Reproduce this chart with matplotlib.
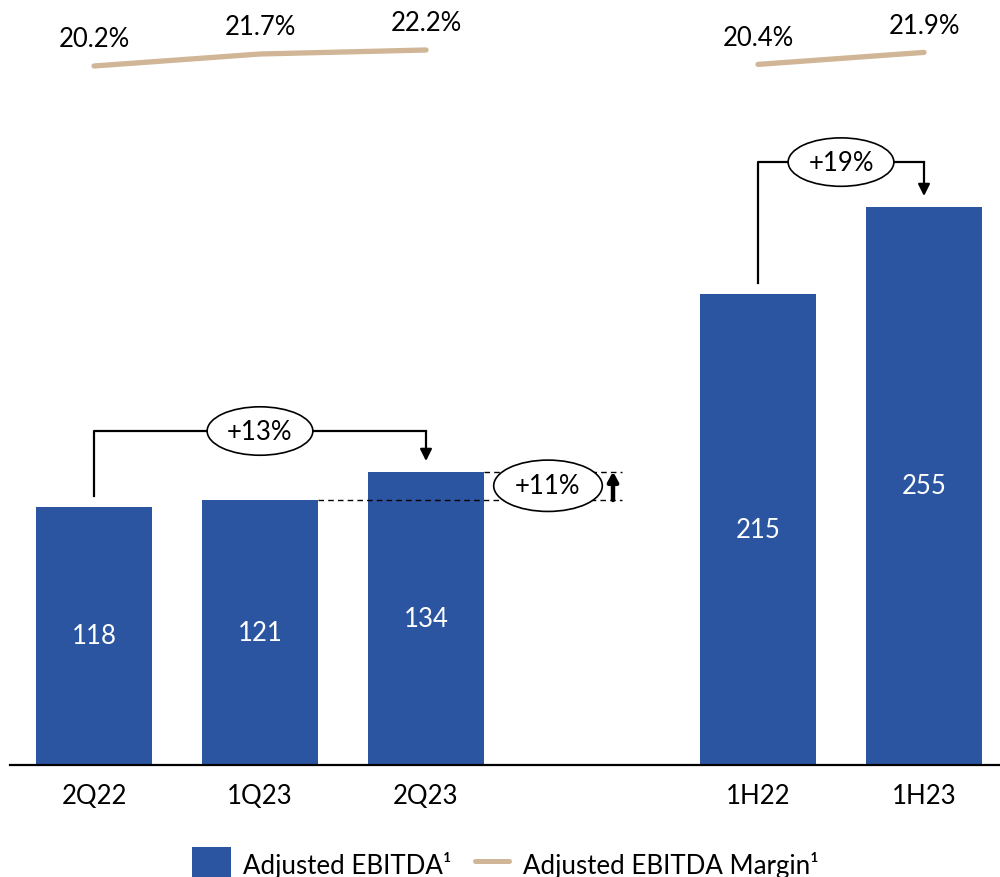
import matplotlib
matplotlib.use("Agg")
import matplotlib.pyplot as plt
from matplotlib.patches import Rectangle
from matplotlib.lines import Line2D

categories = ["2Q22", "1Q23", "2Q23", "1H22", "1H23"]
positions = [0, 1, 2, 4, 5]
ebitda = [118, 121, 134, 215, 255]
margin_q = [20.2, 21.7, 22.2]
margin_h = [20.4, 21.9]
growth_13 = "+13%"
growth_11 = "+11%"
growth_19 = "+19%"
legend_labels = ["Adjusted EBITDA¹", "Adjusted EBITDA Margin¹"]

BLUE = "#2B55A1"
TAN = "#D0B596"
FS = 18.5
plt.rcParams['font.family'] = ['Lato', 'DejaVu Sans']

W, H = 1000, 878
fig = plt.figure(figsize=(10, 8.78), dpi=100)
ax = fig.add_axes([10 / W, 112 / H, 990 / W, 766 / H])
ax.set_xlim((10 - 94) / 166, (1000 - 94) / 166)
ax.set_ylim(0, 766 / 2.19)

ax.bar(positions, ebitda, width=0.7, color=BLUE, zorder=2)
for p, v in zip(positions, ebitda):
    ax.text(p, v / 2, str(v), ha='center', va='center', color='white', fontsize=FS)

for s in ['top', 'left', 'right']:
    ax.spines[s].set_visible(False)
ax.spines['bottom'].set_linewidth(1.6)
ax.set_yticks([])
ax.set_xticks(positions)
ax.set_xticklabels(categories, fontsize=FS)
ax.tick_params(axis='x', length=0, pad=13)

# margin line
ax2 = ax.twinx()
ax2.set_ylim(20.2 - 699 / 8, 20.2 + 67 / 8)
ax2.axis('off')
ax2.plot(positions[:3], margin_q, color=TAN, lw=3.8, solid_capstyle='round')
ax2.plot(positions[3:], margin_h, color=TAN, lw=3.8, solid_capstyle='round')
for p, v in zip(positions, margin_q + margin_h):
    ax2.text(p, v + 3.4, f"{v:.1f}%", ha='center', va='center', fontsize=FS)

ebox = dict(boxstyle='ellipse,pad=0.18', fc='white', ec='black', lw=1.2)

def bracket(x0, x1, v0, v1, top_off, label):
    top = v1 + top_off
    ax.plot([x0, x0, x1], [v0 + 5, top, top], color='black', lw=1.6, zorder=3)
    ax.annotate('', xy=(x1, v1 + 4.8), xytext=(x1, top),
                arrowprops=dict(arrowstyle='-|>,head_width=0.35,head_length=0.7',
                                color='black', lw=1.6, shrinkA=0, shrinkB=0), zorder=3)
    ax.text((x0 + x1) / 2, top, label, ha='center', va='center', fontsize=FS,
            bbox=ebox, zorder=4)

bracket(positions[0], positions[2], ebitda[0], ebitda[2], 18.5, growth_13)
bracket(positions[3], positions[4], ebitda[3], ebitda[4], 20.3, growth_19)

# +11% dashed comparison
xr = (622 - 94) / 166
ax.plot([positions[2] + 0.35, xr], [ebitda[2], ebitda[2]], color='black', lw=1, ls=(0, (4, 3)), zorder=3)
ax.plot([positions[1] + 0.35, xr], [ebitda[1], ebitda[1]], color='black', lw=1, ls=(0, (4, 3)), zorder=3)
ax.text((548 - 94) / 166, (ebitda[1] + ebitda[2]) / 2, growth_11, ha='center', va='center',
        fontsize=FS, bbox=dict(boxstyle='ellipse,pad=0.22', fc='white', ec='black', lw=1.2),
        zorder=4)
xa = (613 - 94) / 166
ax.annotate('', xy=(xa, ebitda[2]), xytext=(xa, ebitda[1]),
            arrowprops=dict(arrowstyle='-|>,head_width=0.3,head_length=0.55',
                            color='black', lw=3.2, shrinkA=0, shrinkB=0), zorder=3)

# legend (drawn at the bottom edge, partly clipped as in the original)
fig.add_artist(Rectangle((192 / W, (H - 887) / H), 39 / W, 39 / H, transform=fig.transFigure,
                         fc=BLUE, ec='none'))
fig.add_artist(Line2D([474.5 / W, 509.5 / W], [(H - 862) / H] * 2, transform=fig.transFigure,
                      color=TAN, lw=3.6, solid_capstyle='round'))
fig.text(243 / W, (H - 874) / H, legend_labels[0], fontsize=18.6, ha='left', va='baseline')
fig.text(523 / W, (H - 874) / H, legend_labels[1], fontsize=18.6, ha='left', va='baseline')

fig.savefig("out.png", dpi=100)
